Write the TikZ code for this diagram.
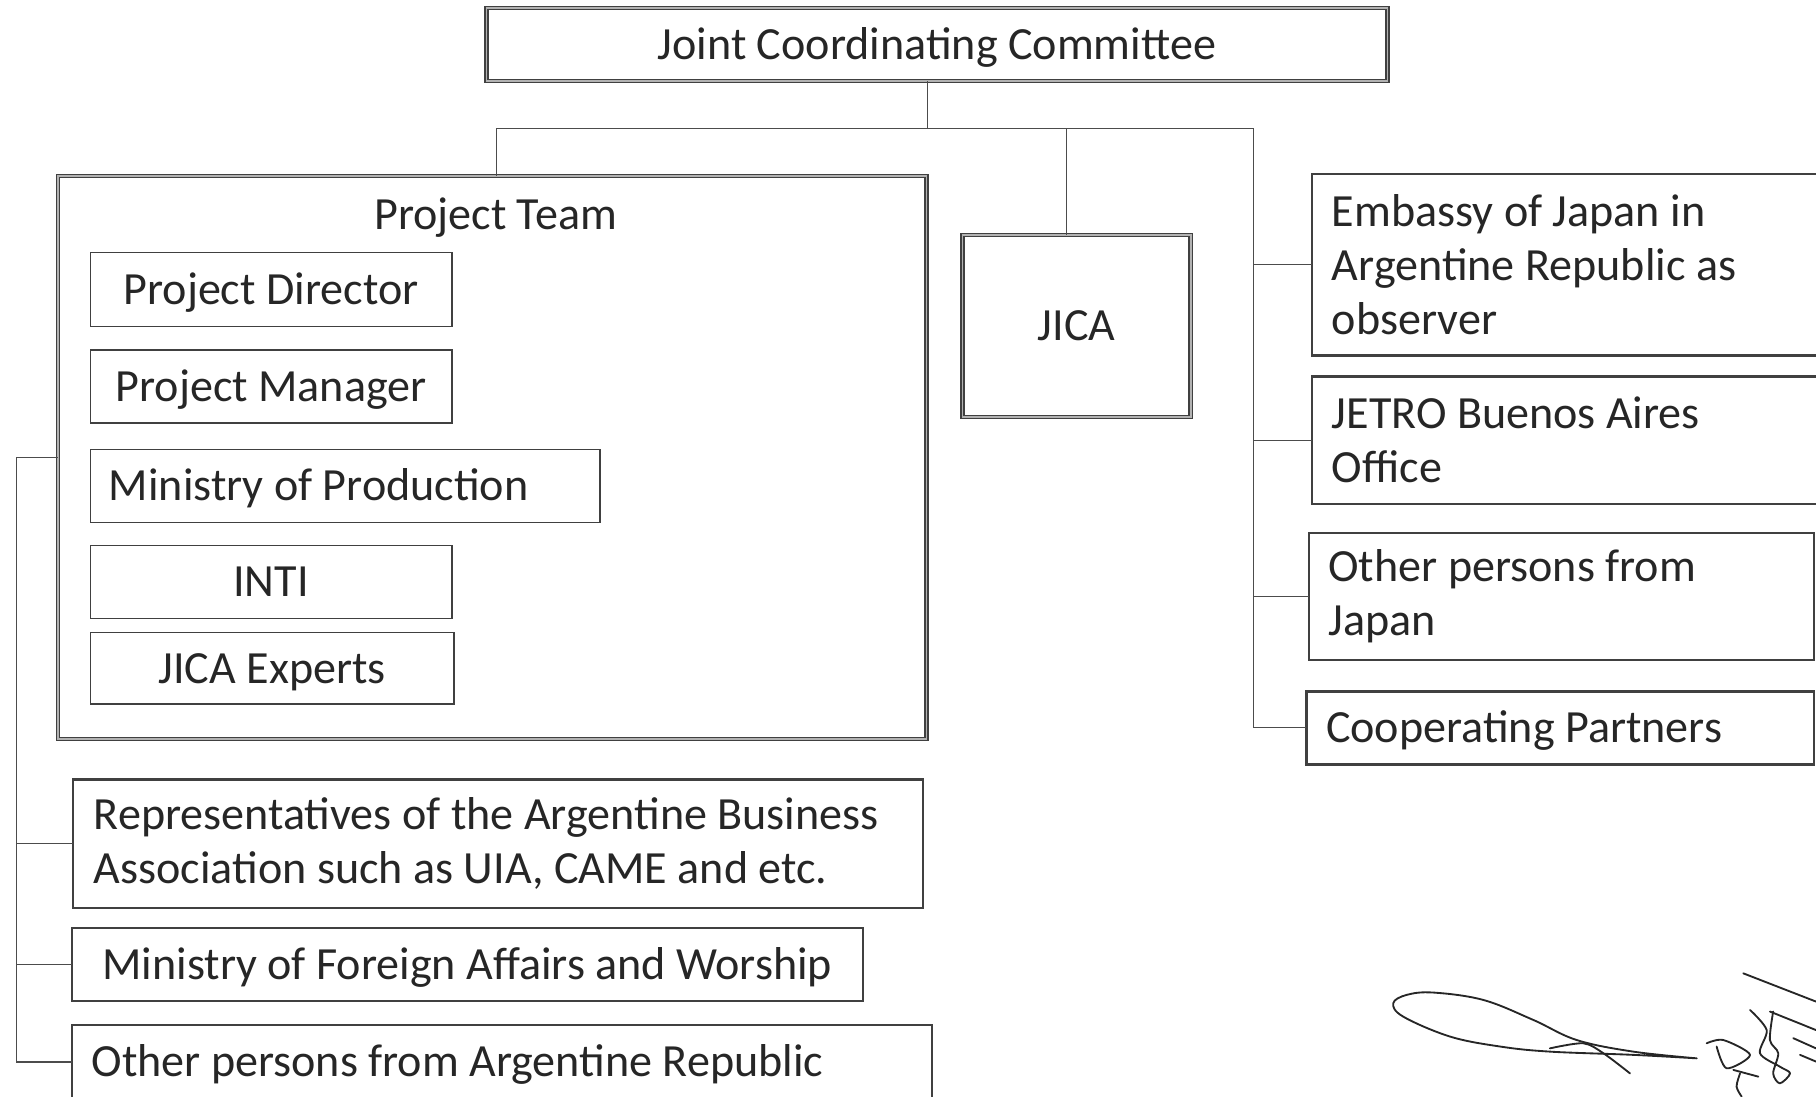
\documentclass[tikz,border=0pt]{standalone}
\usepackage{fontspec}
\setmainfont{Carlito}
\usetikzlibrary{positioning}

\begin{document}
\begin{tikzpicture}[x=1pt, y=-1pt,
    font=\fontsize{19.9}{23.4}\selectfont,
    box/.style={draw=black!75, line width=1pt, outer sep=0pt, inner sep=0pt, anchor=north west, text=black!85},
    heavy/.style={box, line width=0.55pt, double=black!30, double distance=0.8pt},
    thin/.style={box, line width=0.7pt},
    one/.style={text height=14.5pt, text depth=1.7pt},
    lbox/.style={align=flush left, inner xsep=8.5pt},
    link/.style={draw=black!70, line width=0.5pt},
    sign/.style={draw=black!85, line width=0.8pt, line cap=round, line join=round}]

    \useasboundingbox (0,0) rectangle (784,473.5);
    \clip (0,0) rectangle (784,473.5);

    \node[heavy, one, minimum width=389pt, minimum height=31.5pt] (jcc) at (210,3.5) {Joint Coordinating Committee};

    % project team and its members
    \node[heavy, minimum width=375pt, minimum height=243pt] (team) at (25,76) {};
    \node[anchor=base, text=black!85] (teamtitle) at (214,99) {Project Team};

    \node[thin, one, minimum width=156pt, minimum height=32pt] (pd) at (39,109) {Project Director};
    \node[thin, one, minimum width=156pt, minimum height=31.5pt, below=10pt of pd.south west, anchor=north west] (pm) {Project Manager};
    \node[thin, one, lbox, inner xsep=8pt, text width=204pt, minimum height=31.5pt, below=11.5pt of pm.south west, anchor=north west] (mop) {Ministry of Production};
    \node[thin, one, minimum width=156pt, minimum height=31.5pt, below=10pt of mop.south west, anchor=north west] (inti) {INTI};
    \node[thin, one, minimum width=157pt, minimum height=31pt, below=6pt of inti.south west, anchor=north west] (jexp) {JICA Experts};

    \node[heavy, one, minimum width=98.5pt, minimum height=78.5pt] (jica) at (415.5,101.5) {JICA};

    % japanese side
    \node[box, lbox, text width=203pt, minimum height=78.5pt] (emb) at (566.5,75) {Embassy of Japan in\\Argentine Republic as\\observer};
    \node[box, lbox, text width=203pt, minimum height=55pt] (jetro) at (566.5,162.5) {JETRO Buenos Aires\\Office};
    \node[box, lbox, text width=201pt, minimum height=55pt] (ojp) at (565,230) {Other persons from\\Japan};
    \node[box, lbox, one, text width=202pt, minimum height=31.5pt] (coop) at (564,298.5) {Cooperating Partners};

    % argentine side
    \node[box, lbox, inner xsep=9pt, text width=349pt, minimum height=55.5pt] (rep) at (31.5,336.5) {Representatives of the Argentine Business\\Association such as UIA, CAME and etc.};
    \node[box, one, minimum width=341.5pt, minimum height=31.5pt] (mofa) at (31,400.5) {Ministry of Foreign Affairs and Worship};
    \node[box, lbox, one, text width=354.5pt, minimum height=32pt] (oarg) at (31,442.5) {Other persons from Argentine Republic};

    % connectors
    \coordinate (hub) at (400.5,55.5);
    \coordinate (rail) at (541,55.5);
    \coordinate (lrail) at (7,197.5);
    \coordinate (ttop) at ([xshift=2pt]team.north);
    \coordinate (jtop) at ([xshift=-4.5pt]jica.north);

    \draw[link] (jcc.south -| hub) -- (hub);
    \draw[link] (ttop) |- (rail) |- (coop.west);
    \draw[link] (jtop) -- (jtop |- hub);
    \foreach \n in {emb,jetro,ojp}
        \draw[link] (\n.west -| rail) -- (\n.west);
    \draw[link] (team.west) -| (lrail |- oarg.west) -- (oarg.west);
    \foreach \n in {rep,mofa}
        \draw[link] (\n.west -| lrail) -- (\n.west);

    % signature
    \draw[sign] plot[smooth, tension=0.6] coordinates {(732.5,456.9) (705.1,455.4) (669.1,454.0) (647.6,451.8) (626.0,447.5) (605.8,438.9) (601.5,433.1) (607.3,429.5) (618.8,428.5) (640.4,431.7) (661.9,440.3) (680.7,449.0) (705.1,454.0) (732.5,456.9)};
    \draw[sign] plot[smooth] coordinates {(669.1,452.6) (683.5,450.4) (692.2,454.7) (703.7,463.4)};
    \draw[sign] (752.6,420.2) -- (784.0,432.4);
    \draw[sign] (764.1,436.7) -- (784,444.7);
    \draw[sign] (774.2,448.2) -- (784,452.6);
    \draw[sign] (777.1,455.4) -- (784,458.3);
    \draw[sign] plot[smooth, tension=0.5] coordinates {(736.8,450.4) (744,449) (755.5,455.4) (745.4,461.2) (741.1,451.8)};
    \draw[sign] (748.3,461.9) -- (759.1,464.8);
    \draw[sign] plot[smooth] coordinates {(751.2,463.4) (749.7,469.1) (751.9,473.4)};
    \draw[sign] plot[smooth, tension=0.5] coordinates {(755.5,436.0) (762.7,444.7) (759.8,454.7) (768.4,460.5) (772.8,463.4) (768.4,467.7) (765.5,463.4) (767.7,454.7) (764.1,449.0) (765.5,436.7)};
\end{tikzpicture}
\end{document}
